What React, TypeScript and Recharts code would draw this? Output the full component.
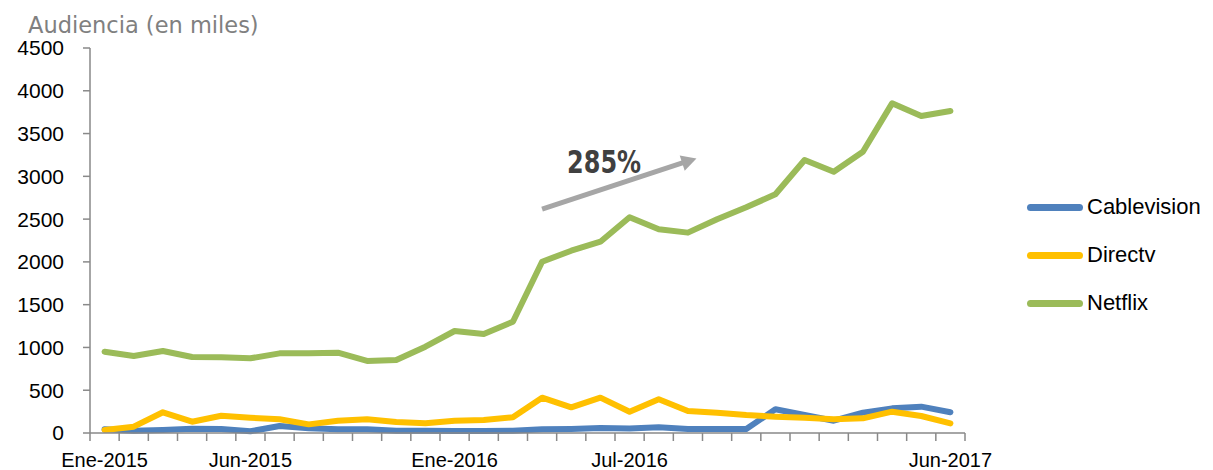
import { LineChart, Line, XAxis, YAxis, Legend, ReferenceLine } from "recharts";

// Audiencia mensual (miles), Ene-2015 a Jun-2017
const MONTHS = [
  "Ene-2015", "Feb-2015", "Mar-2015", "Abr-2015", "May-2015", "Jun-2015",
  "Jul-2015", "Ago-2015", "Sep-2015", "Oct-2015", "Nov-2015", "Dic-2015",
  "Ene-2016", "Feb-2016", "Mar-2016", "Abr-2016", "May-2016", "Jun-2016",
  "Jul-2016", "Ago-2016", "Sep-2016", "Oct-2016", "Nov-2016", "Dic-2016",
  "Ene-2017", "Feb-2017", "Mar-2017", "Abr-2017", "May-2017", "Jun-2017",
];

const CABLEVISION = [
  43, 27, 35, 50, 47, 20, 82, 55, 43, 43, 27, 27, 23, 23, 27,
  43, 47, 58, 52, 66, 47, 47, 47, 277, 210, 144, 238, 288, 308, 242,
];

const DIRECTV = [
  35, 74, 242, 132, 202, 179, 160, 101, 144, 160, 129, 113, 144, 152, 183,
  413, 300, 413, 249, 394, 257, 238, 210, 191, 179, 160, 171, 249, 199, 113,
];

const NETFLIX = [
  950, 900, 958, 888, 885, 873, 931, 931, 939, 842, 853, 1009, 1192, 1157, 1301,
  2002, 2131, 2236, 2521, 2381, 2342, 2498, 2638, 2790, 3191, 3054, 3288, 3853, 3705, 3764,
];

const SERIES_NAMES = ["Cablevision", "Directv", "Netflix"];
const Y_TICKS = [0, 500, 1000, 1500, 2000, 2500, 3000, 3500, 4000, 4500];
const SHOWN_LABELS = ["Ene-2015", "Jun-2015", "Ene-2016", "Jul-2016", "Jun-2017"];

// flecha de crecimiento de Netflix
const ARROW_FROM = { month: "Abr-2016", value: 2618 };
const ARROW_TO = { month: "Sep-2016", value: 3177 };
const ARROW_LABEL = "285%";

const COLORS: Record<string, string> = {
  Cablevision: "#4f81bd",
  Directv: "#ffc000",
  Netflix: "#9bbb59",
};

const AXIS_COLOR = "#898989";
const FONT = "'Liberation Sans', Arial, sans-serif";

const CHART_W = 1205;
const CHART_H = 462;
const MARGIN = { top: 40, right: 248, bottom: 7, left: 0 };
const Y_AXIS_W = 82;
const PLOT_W = CHART_W - MARGIN.left - MARGIN.right - Y_AXIS_W;
const BAND = PLOT_W / MONTHS.length;

const data = MONTHS.map((m, i) => ({
  month: m,
  Cablevision: CABLEVISION[i],
  Directv: DIRECTV[i],
  Netflix: NETFLIX[i],
}));

function MonthTick(props: any) {
  const { x, y, payload } = props;
  const value: string = payload.value;
  const isLast = value === MONTHS[MONTHS.length - 1];
  return (
    <g>
      <line x1={x - BAND / 2} x2={x - BAND / 2} y1={y} y2={y + 8} stroke={AXIS_COLOR} strokeWidth={1.5} />
      {isLast && (
        <line x1={x + BAND / 2} x2={x + BAND / 2} y1={y} y2={y + 8} stroke={AXIS_COLOR} strokeWidth={1.5} />
      )}
      {SHOWN_LABELS.includes(value) && (
        <text x={x} y={y + 34} textAnchor="middle" fontSize={20} fontFamily={FONT} fill="#000">
          {value}
        </text>
      )}
    </g>
  );
}

function GrowthArrow(props: any) {
  const { x1, y1, x2, y2 } = props;
  const dx = x2 - x1;
  const dy = y2 - y1;
  const len = Math.sqrt(dx * dx + dy * dy);
  const ux = dx / len;
  const uy = dy / len;
  const tipX = x2 + ux * 9;
  const tipY = y2 + uy * 9;
  const baseX = x2 - ux * 6;
  const baseY = y2 - uy * 6;
  const hw = 8;
  const pts = [
    `${tipX},${tipY}`,
    `${baseX - uy * hw},${baseY + ux * hw}`,
    `${baseX + uy * hw},${baseY - ux * hw}`,
  ].join(" ");
  return (
    <g>
      <line x1={x1} y1={y1} x2={baseX + ux * 1} y2={baseY + uy * 1} stroke="#a6a6a6" strokeWidth={5} />
      <polygon points={pts} fill="#a6a6a6" />
      <text
        x={x1 + 25}
        y={y1 - 36}
        fontSize={32}
        fontWeight="bold"
        textLength={74}
        lengthAdjust="spacingAndGlyphs"
        fontFamily="'DejaVu Sans Condensed', 'DejaVu Sans', sans-serif"
        fill="#404040"
      >
        {ARROW_LABEL}
      </text>
    </g>
  );
}

function LegendContent() {
  return (
    <div style={{ fontFamily: FONT, fontSize: 22, color: "#000" }}>
      {SERIES_NAMES.map((name) => (
        <div key={name} style={{ display: "flex", alignItems: "center", height: 48 }}>
          <span
            style={{
              display: "inline-block",
              width: 56,
              height: 7,
              borderRadius: 4,
              background: COLORS[name],
              marginRight: 4,
            }}
          />
          <span>{name}</span>
        </div>
      ))}
    </div>
  );
}

export default function App() {
  return (
    <LineChart width={CHART_W} height={CHART_H} data={data} margin={MARGIN}>
      <text x={20} y={25} fontSize={22.5} fontFamily="'DejaVu Sans', sans-serif" fill="#808080">
        Audiencia (en miles)
      </text>
      <XAxis
        dataKey="month"
        interval={0}
        height={30}
        padding={{ left: BAND / 2, right: BAND / 2 }}
        axisLine={{ stroke: AXIS_COLOR, strokeWidth: 1.5 }}
        tickLine={false}
        tickSize={0}
        tickMargin={0}
        tick={<MonthTick />}
      />
      <YAxis
        width={Y_AXIS_W}
        domain={[0, 4500]}
        ticks={Y_TICKS}
        interval={0}
        axisLine={{ stroke: AXIS_COLOR, strokeWidth: 1.5 }}
        tickLine={{ stroke: AXIS_COLOR, strokeWidth: 1.5 }}
        tickSize={7}
        tickMargin={19}
        tick={{ fill: "#000", fontSize: 21, fontFamily: FONT }}
      />
      <Legend
        layout="vertical"
        align="center"
        verticalAlign="middle"
        wrapperStyle={{ left: 1019, top: 175, width: 190 }}
        content={() => <LegendContent />}
      />
      {SERIES_NAMES.map((name) => (
        <Line
          key={name}
          type="linear"
          dataKey={name}
          stroke={COLORS[name]}
          strokeWidth={6}
          strokeLinecap="round"
          strokeLinejoin="round"
          dot={false}
          activeDot={false}
          isAnimationActive={false}
        />
      ))}
      <ReferenceLine
        segment={[
          { x: ARROW_FROM.month, y: ARROW_FROM.value },
          { x: ARROW_TO.month, y: ARROW_TO.value },
        ]}
        ifOverflow="visible"
        shape={<GrowthArrow />}
      />
    </LineChart>
  );
}
